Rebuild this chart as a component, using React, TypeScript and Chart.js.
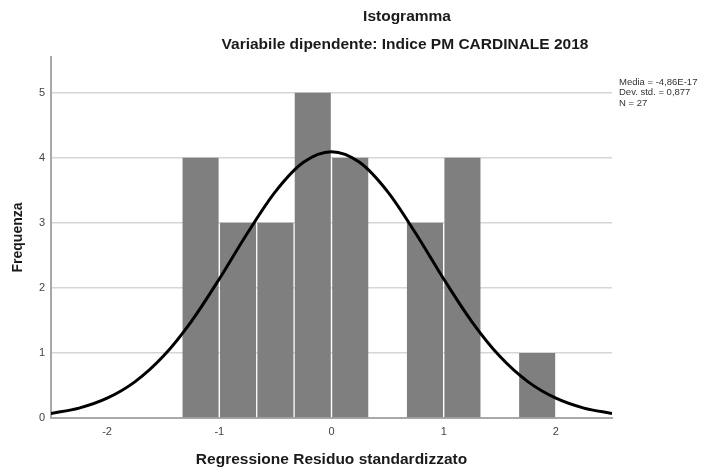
import React, { useEffect, useRef } from "react";
import { Chart, registerables } from "chart.js";

Chart.register(...registerables);

const titleText = "Istogramma";
const subtitleText = "Variabile dipendente: Indice PM CARDINALE 2018";
const xTitle = "Regressione Residuo standardizzato";
const yTitle = "Frequenza";
const statsLines = ["Media = -4,86E-17", "Dev. std. = 0,877", "N = 27"];

// histogram bins (centres) and counts
const binCenters = [-1.167, -0.833, -0.5, -0.167, 0.167, 0.5, 0.833, 1.167, 1.5, 1.833];
const binCounts = [4, 3, 3, 5, 4, 0, 3, 4, 0, 1];

// normal curve
const curveX = [-2.5, -2.25, -2.0, -1.75, -1.5, -1.25, -1.0, -0.75, -0.5, -0.25, 0, 0.25, 0.5, 0.75, 1.0, 1.25, 1.5, 1.75, 2.0, 2.25, 2.5];
const curveY = [0.07, 0.152, 0.304, 0.559, 0.948, 1.483, 2.137, 2.84, 3.48, 3.931, 4.094, 3.931, 3.48, 2.84, 2.137, 1.483, 0.948, 0.559, 0.304, 0.152, 0.07];

const xTicks = [-2, -1, 0, 1, 2];
const yTicks = [0, 1, 2, 3, 4, 5];

const FONT = '"Liberation Sans", Arial, sans-serif';

export default function App() {
  const ref = useRef<HTMLCanvasElement>(null);
  useEffect(() => {
    if (!ref.current) return;
    const textPlugin = {
      id: "texts",
      afterDraw(chart: any) {
        const ctx = chart.ctx;
        ctx.save();
        ctx.fillStyle = "#1a1a1a";
        ctx.textAlign = "center";
        ctx.textBaseline = "middle";
        ctx.font = `bold 15.5px ${FONT}`;
        ctx.fillText(titleText, 407, 17);
        ctx.fillText(subtitleText, 405, 45);
        ctx.textAlign = "left";
        ctx.font = `9.5px ${FONT}`;
        ctx.fillStyle = "#333";
        statsLines.forEach((s, i) => ctx.fillText(s, 619, 82 + i * 10.5));
        ctx.restore();
      },
    };
    const chart = new Chart(ref.current, {
      type: "bar",
      data: {
        datasets: [
          {
            type: "line",
            data: curveX.map((x, i) => ({ x, y: curveY[i] })),
            borderColor: "#000",
            borderWidth: 3,
            pointRadius: 0,
            cubicInterpolationMode: "monotone",
            fill: false,
            order: 0,
          } as any,
          {
            type: "bar",
            data: binCenters.map((x, i) => ({ x, y: binCounts[i] })),
            backgroundColor: "#7f7f7f",
            borderWidth: 0,
            barPercentage: 0.965,
            categoryPercentage: 1,
            order: 1,
          },
        ],
      },
      options: {
        responsive: false,
        animation: false,
        layout: { padding: { left: 0, top: 57, right: 92, bottom: 0 } },
        plugins: { legend: { display: false }, tooltip: { enabled: false } },
        scales: {
          x: {
            type: "linear",
            min: -2.5,
            max: 2.5,
            offset: false,
            grid: { display: false, drawTicks: false },
            border: { display: true, color: "#a8a8a8", width: 2 },
            afterBuildTicks: (s: any) => {
              s.ticks = xTicks.map((v) => ({ value: v }));
            },
            afterFit: (s: any) => {
              s.height = 54;
            },
            ticks: { font: { family: FONT, size: 11 }, color: "#444", padding: 7, maxRotation: 0 },
            title: {
              display: true,
              text: xTitle,
              color: "#1a1a1a",
              font: { family: FONT, size: 15.5, weight: "bold" },
              padding: { top: 0, bottom: 3 },
            },
          },
          y: {
            min: 0,
            max: 5.55,
            grid: { color: "#d6d6d6", lineWidth: 1.5, drawTicks: false },
            border: { display: true, color: "#a8a8a8", width: 2 },
            afterBuildTicks: (s: any) => {
              s.ticks = yTicks.map((v) => ({ value: v }));
            },
            afterFit: (s: any) => {
              s.width = 51;
            },
            ticks: { font: { family: FONT, size: 11 }, color: "#444", padding: 6 },
            title: {
              display: true,
              text: yTitle,
              color: "#1a1a1a",
              font: { family: FONT, size: 14, weight: "bold" },
              padding: { top: 10, bottom: 0 },
            },
          },
        },
      },
      plugins: [textPlugin],
    });
    return () => chart.destroy();
  }, []);
  return (
    <div style={{ position: "absolute", left: 0, top: 0, width: 704, height: 472, background: "#fff" }}>
      <canvas ref={ref} width={704} height={472} />
    </div>
  );
}
